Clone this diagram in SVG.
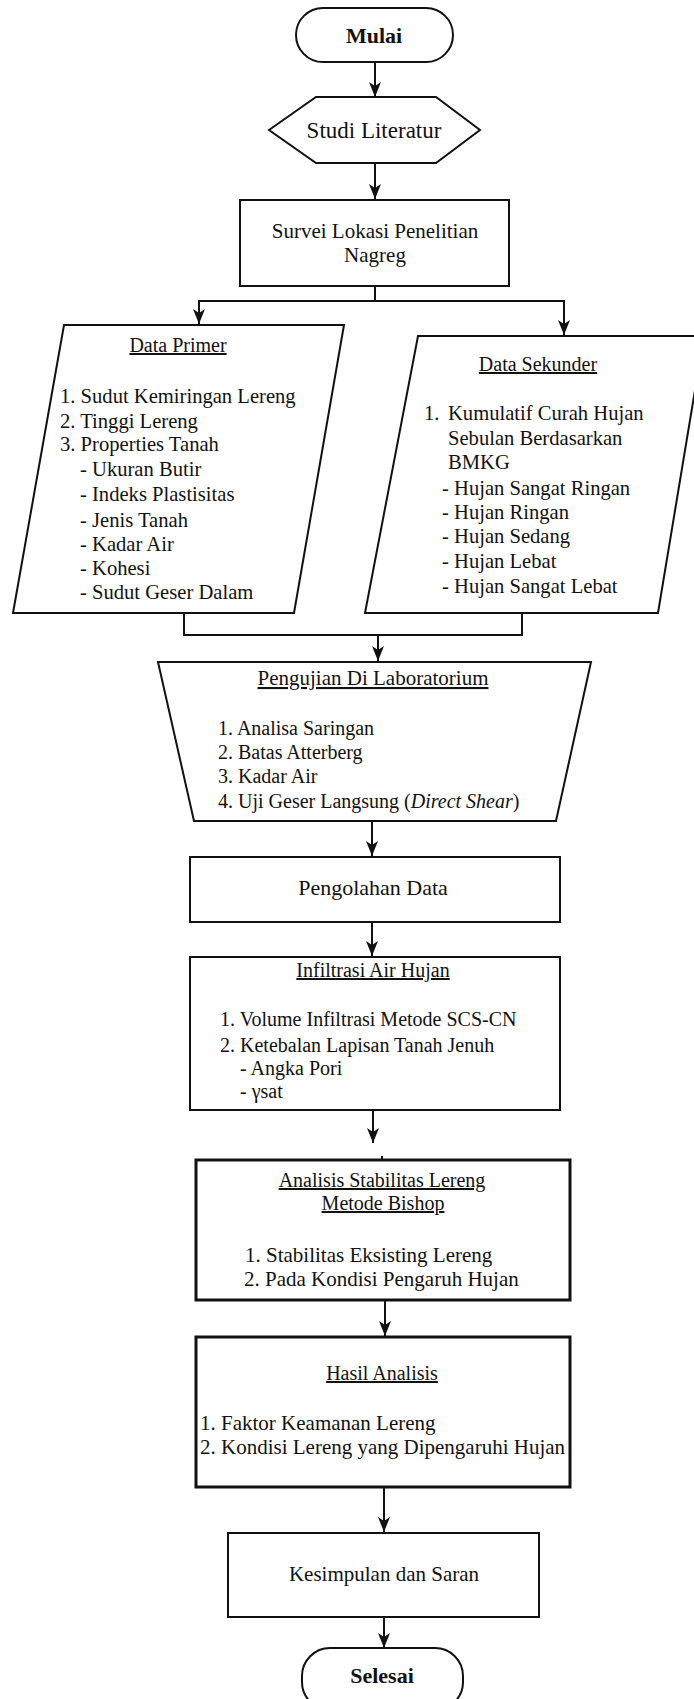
<svg xmlns="http://www.w3.org/2000/svg" width="694" height="1699" viewBox="0 0 694 1699">
<style>
.shape{fill:#fff;stroke:#111;stroke-width:2}
.thick{fill:#fff;stroke:#111;stroke-width:3}
.conn{fill:none;stroke:#111;stroke-width:2}
.head{fill:#111}
text{font-family:"Liberation Serif","Times New Roman",serif;fill:#111;font-size:20px}
.c{text-anchor:middle}
.b{font-weight:bold;font-size:22px}
.u{text-decoration:underline}
.s21{font-size:21px}
.s205{font-size:20.6px}
</style>
<rect width="694" height="1699" fill="#fff"/>
<g id="connectors">
<line class="conn" x1="375" y1="62" x2="375" y2="97"/>
<path class="head" d="M369,82 L375,86 L381,82 L375,97 Z"/>
<line class="conn" x1="375" y1="163" x2="375" y2="199"/>
<path class="head" d="M369,184 L375,188 L381,184 L375,199 Z"/>
<path class="conn" d="M375,286 V301 H199 V324"/>
<path class="head" d="M193,309 L199,313 L205,309 L199,324 Z"/>
<path class="conn" d="M375,301 H564 V335"/>
<path class="head" d="M558,320 L564,324 L570,320 L564,335 Z"/>
<path class="conn" d="M184,613 V635 H522 V613"/>
<line class="conn" x1="378" y1="635" x2="378" y2="661"/>
<path class="head" d="M372,646 L378,650 L384,646 L378,661 Z"/>
<line class="conn" x1="372" y1="821" x2="372" y2="856"/>
<path class="head" d="M366,841 L372,845 L378,841 L372,856 Z"/>
<line class="conn" x1="372" y1="922" x2="372" y2="956"/>
<path class="head" d="M366,941 L372,945 L378,941 L372,956 Z"/>
<line class="conn" x1="373" y1="1110" x2="373" y2="1143"/>
<path class="head" d="M367,1128 L373,1132 L379,1128 L373,1143 Z"/>
<line class="conn" x1="382" y1="1156" x2="382" y2="1160"/>
<line class="conn" x1="385" y1="1300" x2="385" y2="1336"/>
<path class="head" d="M379,1321 L385,1325 L391,1321 L385,1336 Z"/>
<line class="conn" x1="384" y1="1487" x2="384" y2="1532"/>
<path class="head" d="M378,1517 L384,1521 L390,1517 L384,1532 Z"/>
<line class="conn" x1="384" y1="1617" x2="384" y2="1648"/>
<path class="head" d="M378,1633 L384,1637 L390,1633 L384,1648 Z"/>
</g>
<g id="mulai">
<rect class="shape" x="296" y="8" width="157" height="54" rx="27"/>
<text class="c b" x="374" y="43">Mulai</text>
</g>
<g id="studi-literatur">
<polygon class="shape" points="269,130 316,97 436,97 480,130 436,163 316,163"/>
<text class="c" x="374" y="138" style="font-size:23px">Studi Literatur</text>
</g>
<g id="survei">
<rect class="shape" x="240" y="200" width="269" height="86"/>
<text class="c s21" x="375" y="238">Survei Lokasi Penelitian</text>
<text class="c s21" x="375" y="262">Nagreg</text>
</g>
<g id="data-primer">
<polygon class="shape" points="64,325 344,325 294,613 13,613"/>
<text class="c u" x="178" y="352">Data Primer</text>
<text class="s205" x="60" y="403">1. Sudut Kemiringan Lereng</text>
<text class="s205" x="60" y="428">2. Tinggi Lereng</text>
<text class="s205" x="60" y="451">3. Properties Tanah</text>
<text class="s205" x="80" y="476">- Ukuran Butir</text>
<text class="s205" x="80" y="501">- Indeks Plastisitas</text>
<text class="s205" x="80" y="527">- Jenis Tanah</text>
<text class="s205" x="80" y="551">- Kadar Air</text>
<text class="s205" x="80" y="575">- Kohesi</text>
<text class="s205" x="80" y="599">- Sudut Geser Dalam</text>
</g>
<g id="data-sekunder">
<polygon class="shape" points="418,336 704,336 658,613 365,613"/>
<text class="c u" x="538" y="371">Data Sekunder</text>
<text class="s205" x="424" y="420">1.</text>
<text class="s205" x="448" y="420">Kumulatif Curah Hujan</text>
<text class="s205" x="448" y="445">Sebulan Berdasarkan</text>
<text class="s205" x="448" y="469">BMKG</text>
<text class="s205" x="442" y="495">- Hujan Sangat Ringan</text>
<text class="s205" x="442" y="519">- Hujan Ringan</text>
<text class="s205" x="442" y="543">- Hujan Sedang</text>
<text class="s205" x="442" y="568">- Hujan Lebat</text>
<text class="s205" x="442" y="593">- Hujan Sangat Lebat</text>
</g>
<g id="pengujian">
<polygon class="shape" points="158,662 591,662 556,821 194,821"/>
<text class="c u s21" x="373" y="685">Pengujian Di Laboratorium</text>
<text x="218" y="735">1. Analisa Saringan</text>
<text x="218" y="759">2. Batas Atterberg</text>
<text x="218" y="783">3. Kadar Air</text>
<text x="218" y="808">4. Uji Geser Langsung (<tspan font-style="italic">Direct Shear</tspan>)</text>
</g>
<g id="pengolahan">
<rect class="shape" x="190" y="857" width="370" height="65"/>
<text class="c" x="373" y="895" style="font-size:22px">Pengolahan Data</text>
</g>
<g id="infiltrasi">
<rect class="shape" x="190" y="957" width="370" height="153"/>
<text class="c u" x="373" y="977">Infiltrasi Air Hujan </text>
<text x="220" y="1026">1. Volume Infiltrasi Metode SCS-CN</text>
<text x="220" y="1052">2. Ketebalan Lapisan Tanah Jenuh</text>
<text x="240" y="1075">- Angka Pori</text>
<text x="240" y="1098">- γsat</text>
</g>
<g id="analisis">
<rect class="thick" x="196" y="1160" width="374" height="140"/>
<text class="c u" x="382" y="1187">Analisis Stabilitas Lereng </text>
<text class="c u" x="383" y="1210">Metode Bishop</text>
<text class="s21" x="245" y="1262">1. Stabilitas Eksisting Lereng</text>
<text class="s21" x="244" y="1286">2. Pada Kondisi Pengaruh Hujan</text>
</g>
<g id="hasil">
<rect class="thick" x="196" y="1337" width="374" height="150"/>
<text class="c u" x="382" y="1380">Hasil Analisis</text>
<text class="s21" x="200" y="1430">1. Faktor Keamanan Lereng</text>
<text class="s21" x="200" y="1454">2. Kondisi Lereng yang Dipengaruhi Hujan</text>
</g>
<g id="kesimpulan">
<rect class="shape" x="228" y="1533" width="311" height="84"/>
<text class="c s21" x="384" y="1581">Kesimpulan dan Saran</text>
</g>
<g id="selesai">
<rect class="shape" x="302" y="1648" width="161" height="62" rx="28"/>
<text class="c b" x="382" y="1683">Selesai</text>
</g>
</svg>
